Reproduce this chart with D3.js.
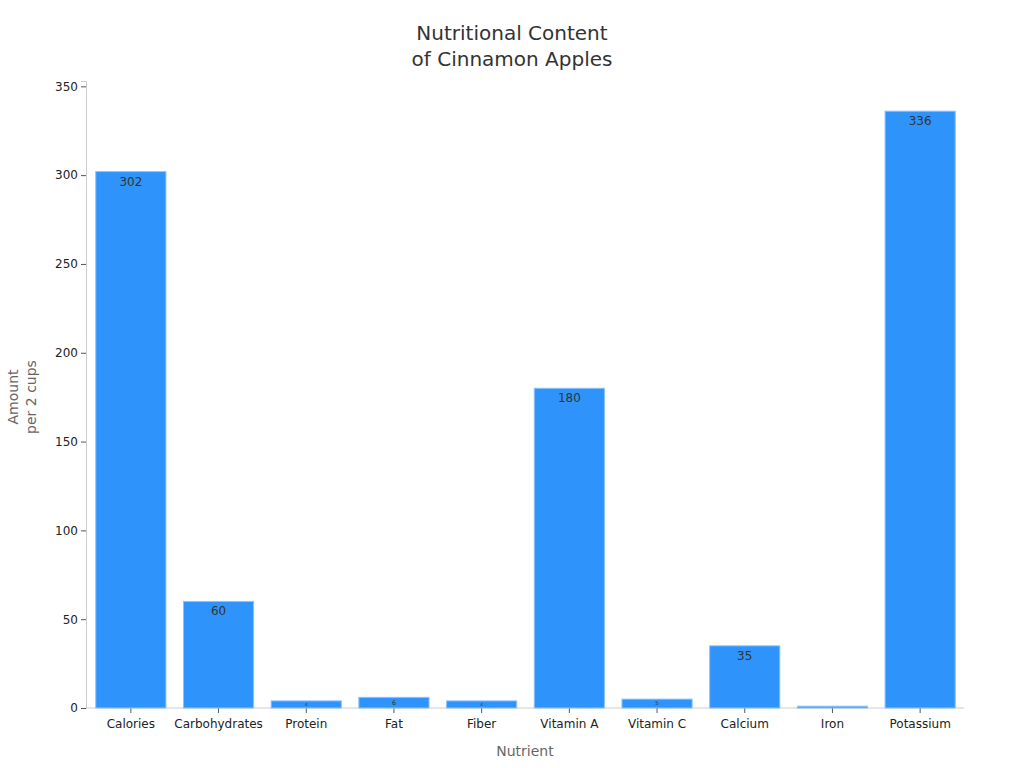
<!DOCTYPE html>
<html>
<head>
<meta charset="utf-8">
<script src="https://cdn.jsdelivr.net/npm/d3@7"></script>
<style>
  body { margin: 0; background: #fff; }
  svg, svg text { font-family: "DejaVu Sans", sans-serif; }
</style>
</head>
<body>
<svg width="1024" height="768"></svg>
<script>
var nutrients = ["Calories", "Carbohydrates", "Protein", "Fat", "Fiber", "Vitamin A", "Vitamin C", "Calcium", "Iron", "Potassium"];
var amounts = [302, 60, 4, 6, 4, 180, 5, 35, 1, 336];
var yTicks = [0, 50, 100, 150, 200, 250, 300, 350];

var svg = d3.select("svg");
var margin = { left: 86, right: 60, top: 81, bottom: 60 };
var width = 1024, height = 768;

var x = d3.scaleBand()
  .domain(nutrients)
  .range([margin.left + 1, width - margin.right])
  .paddingInner(0.2)
  .paddingOuter(0.1);

var y = d3.scaleLinear()
  .domain([0, 353])
  .range([height - margin.bottom, margin.top]);

// axes
var yAxis = svg.append("g")
  .attr("transform", "translate(" + margin.left + ",0)")
  .call(d3.axisLeft(y).tickValues(yTicks).tickSize(5).tickPadding(3));
var xAxis = svg.append("g")
  .attr("transform", "translate(0," + (height - margin.bottom) + ")")
  .call(d3.axisBottom(x).tickSize(5).tickPadding(6).tickSizeOuter(0));
xAxis.select(".domain").attr("d", "M" + margin.left + ",0H" + (width - margin.right));

[yAxis, xAxis].forEach(function (a) {
  a.attr("font-family", "DejaVu Sans, sans-serif");
  a.select(".domain").attr("stroke", "#ccc");
  a.selectAll(".tick line").attr("stroke", "#555");
  a.selectAll(".tick text").attr("fill", "#222").style("font-size", "12px");
});

// bars
svg.append("g")
  .selectAll("rect")
  .data(amounts)
  .enter()
  .append("rect")
  .attr("x", function (d, i) { return x(nutrients[i]); })
  .attr("y", function (d) { return y(d); })
  .attr("width", x.bandwidth())
  .attr("height", function (d) { return y(0) - y(d); })
  .attr("fill", "#2e93fa")
  .attr("stroke", "#8cc2fc")
  .attr("stroke-width", 1);

// value labels
svg.append("g")
  .selectAll("text")
  .data(amounts)
  .enter()
  .append("text")
  .attr("x", function (d, i) { return x(nutrients[i]) + x.bandwidth() / 2; })
  .attr("y", function (d) {
    var h = y(0) - y(d);
    var fs = Math.min(12, h * 0.6);
    return y(d) + Math.min(14, h / 2 + fs * 0.35);
  })
  .attr("text-anchor", "middle")
  .attr("fill", "#333")
  .style("font-size", function (d) {
    var h = y(0) - y(d);
    return Math.min(12, h * 0.6) + "px";
  })
  .text(function (d) { return d; });

// title
var title = svg.append("text")
  .attr("text-anchor", "middle")
  .attr("fill", "#333")
  .style("font-size", "20px");
title.append("tspan").attr("x", 512).attr("y", 40).text("Nutritional Content");
title.append("tspan").attr("x", 512).attr("y", 66).text("of Cinnamon Apples");

// axis titles
svg.append("text")
  .attr("x", 525)
  .attr("y", 756)
  .attr("text-anchor", "middle")
  .attr("fill", "#666")
  .style("font-size", "14px")
  .text("Nutrient");

var yl = svg.append("text")
  .attr("transform", "translate(0,397) rotate(-90)")
  .attr("text-anchor", "middle")
  .attr("fill", "#666")
  .style("font-size", "14px");
yl.append("tspan").attr("x", 0).attr("y", 18).text("Amount");
yl.append("tspan").attr("x", 0).attr("y", 36).text("per 2 cups");
</script>
</body>
</html>
